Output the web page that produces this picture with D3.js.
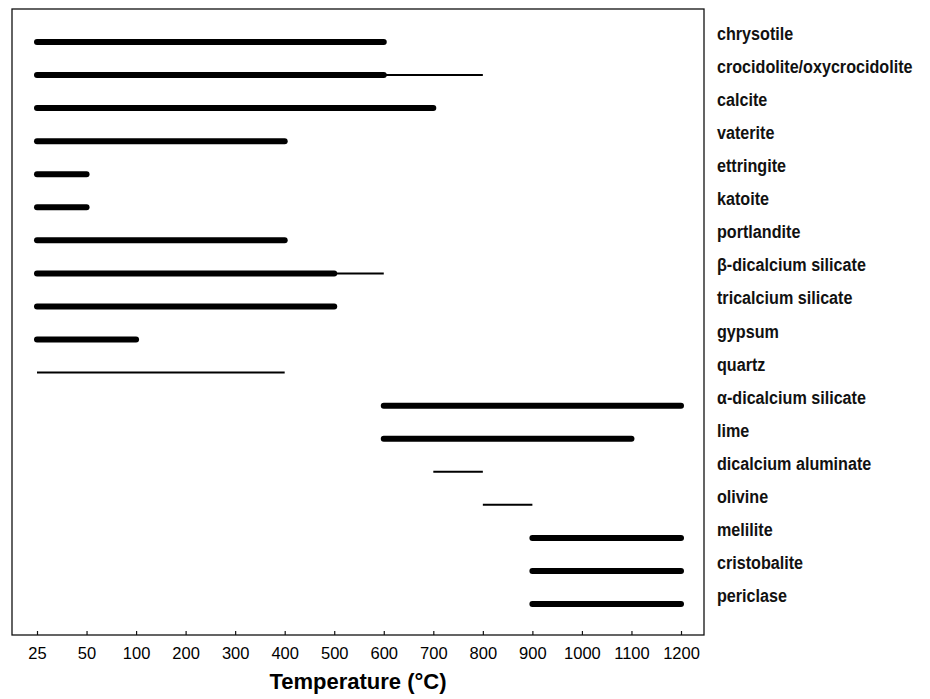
<!DOCTYPE html>
<html>
<head>
<meta charset="utf-8">
<script src="https://cdn.jsdelivr.net/npm/d3@7"></script>
<style>
body { margin: 0; background: #fff; }
text { font-family: "Liberation Sans", Arial, sans-serif; }
</style>
</head>
<body>
<div id="chart"></div>
<script>
var svgWidth = 930;
var svgHeight = 699;

// minerals top to bottom
var minerals = ["chrysotile", "crocidolite/oxycrocidolite", "calcite", "vaterite", "ettringite",
    "katoite", "portlandite", "β-dicalcium silicate", "tricalcium silicate", "gypsum", "quartz",
    "α-dicalcium silicate", "lime", "dicalcium aluminate", "olivine", "melilite", "cristobalite", "periclase"];

// thick segment (start, end), null when absent
var thickStart = [25, 25, 25, 25, 25, 25, 25, 25, 25, 25, null, 600, 600, null, null, 900, 900, 900];
var thickEnd   = [600, 600, 700, 400, 50, 50, 400, 500, 500, 100, null, 1200, 1100, null, null, 1200, 1200, 1200];
// thin segment (start, end)
var thinStart = [null, 600, null, null, null, null, null, 500, null, null, 25, null, null, 700, 800, null, null, null];
var thinEnd   = [null, 800, null, null, null, null, null, 600, null, null, 400, null, null, 800, 900, null, null, null];

var tickValues = [25, 50, 100, 200, 300, 400, 500, 600, 700, 800, 900, 1000, 1100, 1200];

var frame = { left: 12, top: 9, right: 704, bottom: 635 };

var svg = d3.select("#chart")
    .append("svg")
    .attr("width", svgWidth)
    .attr("height", svgHeight);

// evenly spaced but uneven values: piecewise linear scale
var x = d3.scaleLinear()
    .domain(tickValues)
    .range(tickValues.map((d, i) => 37 + i * (681 - 37) / (tickValues.length - 1)));

var y = d3.scalePoint()
    .domain(minerals)
    .range([42, 604]);

svg.append("rect")
    .attr("x", frame.left)
    .attr("y", frame.top)
    .attr("width", frame.right - frame.left)
    .attr("height", frame.bottom - frame.top)
    .attr("fill", "none")
    .attr("stroke", "#111")
    .attr("stroke-width", 1.3);

var bottomAxis = d3.axisBottom(x)
    .tickValues(tickValues)
    .tickSizeInner(-4)
    .tickSizeOuter(0)
    .tickPadding(12)
    .tickFormat(d3.format("d"));

var xAxis = svg.append("g")
    .attr("transform", `translate(0, ${frame.bottom})`)
    .call(bottomAxis);

xAxis.select(".domain").remove();
xAxis.selectAll(".tick line").attr("stroke", "#111").attr("stroke-width", 1.2);
xAxis.selectAll(".tick text")
    .attr("fill", "#000")
    .style("font-family", "'Liberation Sans', Arial, sans-serif")
    .style("font-size", "16.5px");

svg.append("text")
    .attr("x", 358)
    .attr("y", 689)
    .attr("text-anchor", "middle")
    .style("font-size", "22px")
    .style("font-weight", "bold")
    .text("Temperature (°C)");

var idx = d3.range(minerals.length);

svg.append("g")
    .selectAll("line")
    .data(idx.filter(i => thinStart[i] !== null))
    .enter()
    .append("line")
    .attr("x1", i => x(thinStart[i]))
    .attr("x2", i => x(thinEnd[i]))
    .attr("y1", i => y(minerals[i]))
    .attr("y2", i => y(minerals[i]))
    .attr("stroke", "#000")
    .attr("stroke-width", 2);

svg.append("g")
    .selectAll("line")
    .data(idx.filter(i => thickStart[i] !== null))
    .enter()
    .append("line")
    .attr("x1", i => x(thickStart[i]))
    .attr("x2", i => x(thickEnd[i]))
    .attr("y1", i => y(minerals[i]))
    .attr("y2", i => y(minerals[i]))
    .attr("stroke", "#000")
    .attr("stroke-width", 6)
    .attr("stroke-linecap", "round");

// labels: slightly condensed, taller glyphs
svg.append("g")
    .selectAll("text")
    .data(minerals)
    .enter()
    .append("text")
    .attr("transform", d => `translate(717, ${y(d) - 2}) scale(0.95, 1.12)`)
    .style("font-size", "17px")
    .style("font-weight", "bold")
    .attr("fill", "#111")
    .text(d => d);
</script>
</body>
</html>
